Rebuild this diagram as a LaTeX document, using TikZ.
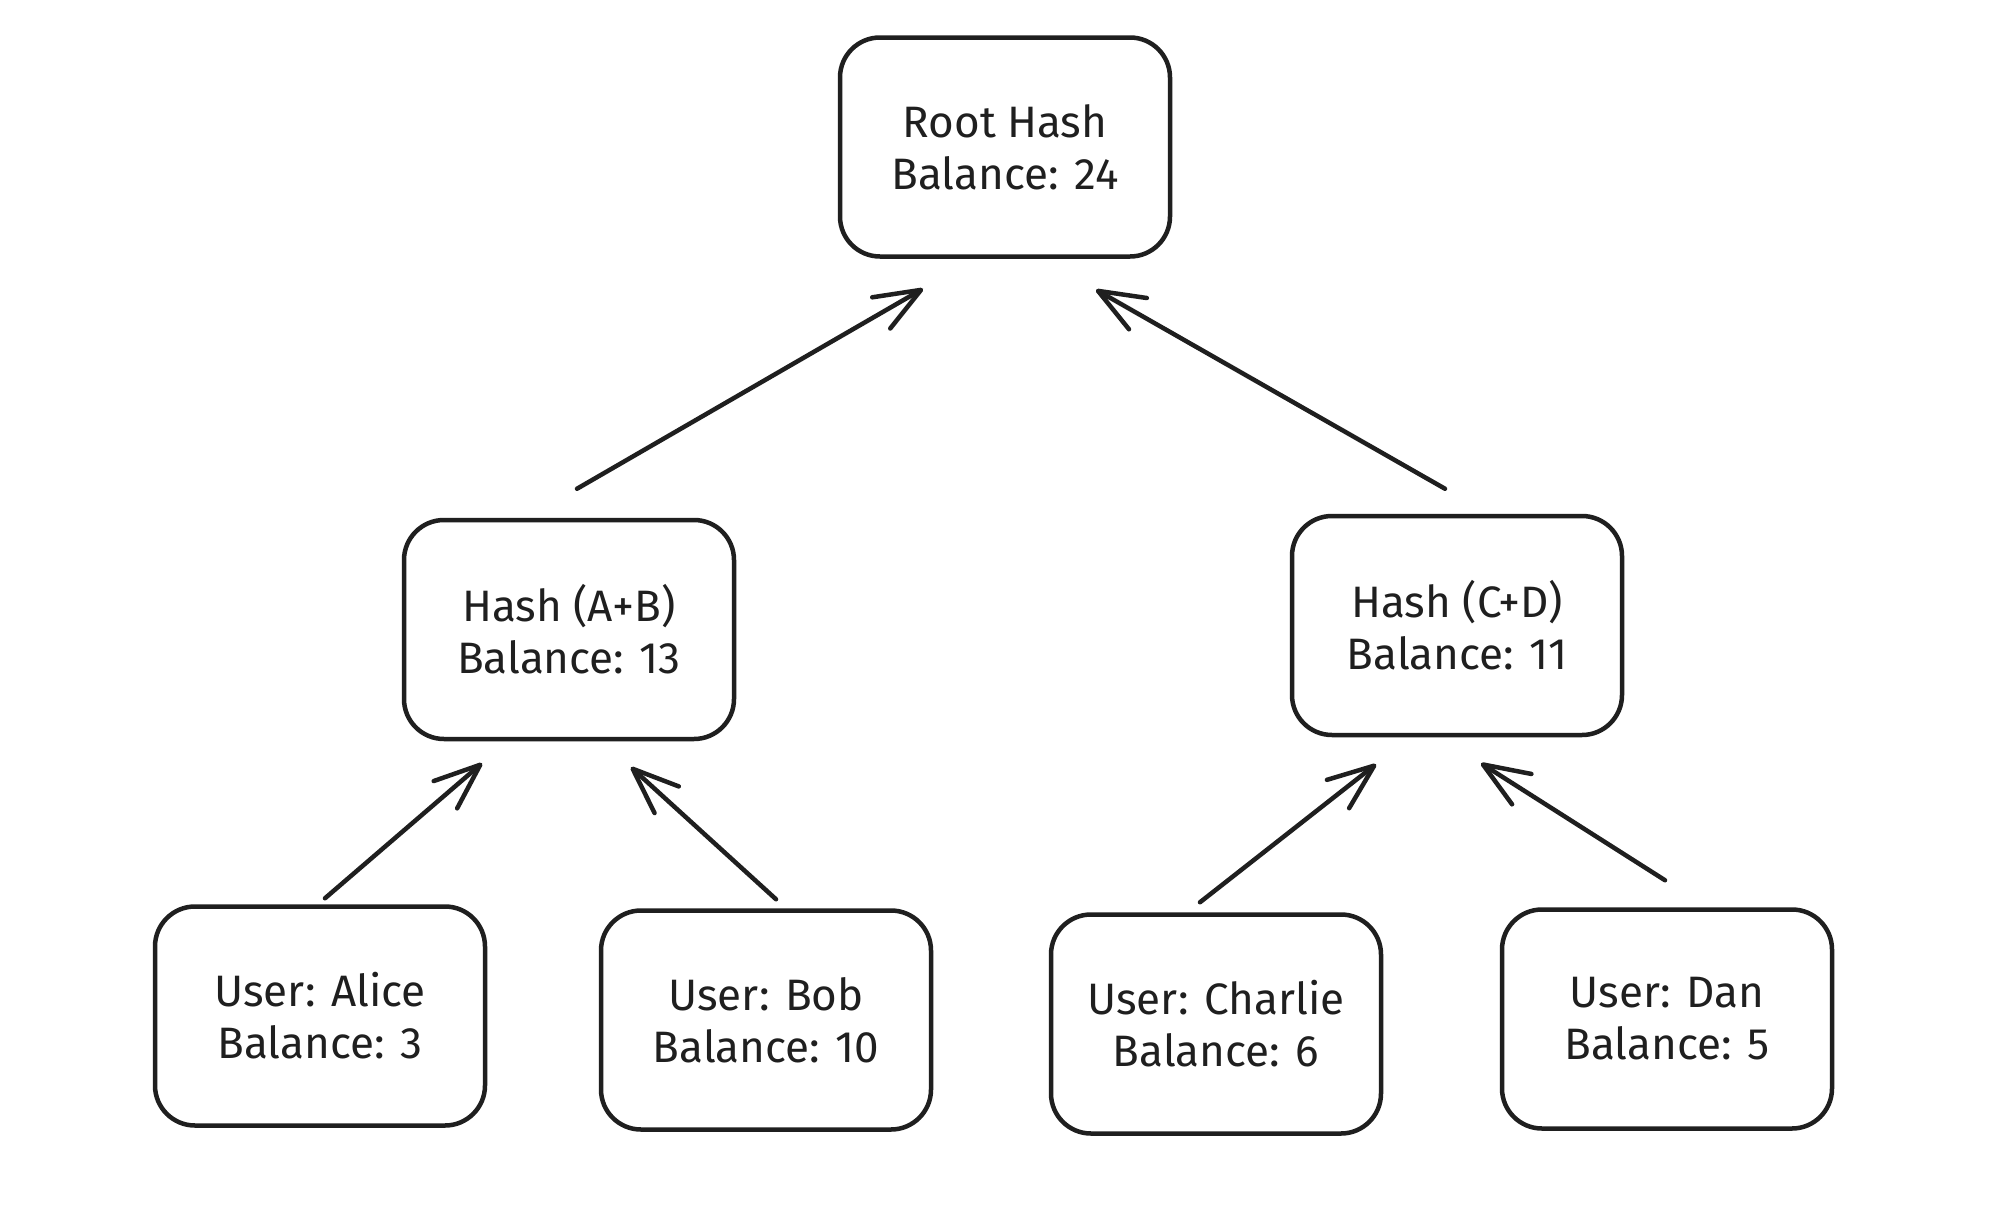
\documentclass[tikz,border=0pt]{standalone}
\usepackage{fontspec}
\setmainfont{Fira Sans}
\usetikzlibrary{arrows.meta,calc}

\tikzset{
  hashbox/.style={draw=black!88, line width=4.5pt, rounded corners=40pt,
    minimum width=330pt, minimum height=219pt, align=center,
    inner sep=0pt, text=black!88, font=\fontsize{44}{52}\selectfont},
  link/.style={draw=black!88, line width=4.5pt, line cap=round, line join=round,
    -{Straight Barb[length=46pt, width=36pt, line cap=round, line join=round]}}
}

\begin{document}
\begin{tikzpicture}[x=1pt, y=-1pt]
  \useasboundingbox (0,0) rectangle (1998,1210);
  \fill[white] (0,0) rectangle (1998,1210);

  % tree nodes
  \node[hashbox] (root)    at (1005,147)  {Root Hash\\Balance: 24};
  \node[hashbox] (ab)      at (569,629.5) {Hash (A+B)\\Balance: 13};
  \node[hashbox] (cd)      at (1457,625.5){Hash (C+D)\\Balance: 11};
  \node[hashbox] (alice)   at (320,1016)  {User: Alice\\Balance: 3};
  \node[hashbox] (bob)     at (766,1020)  {User: Bob\\Balance: 10};
  \node[hashbox] (charlie) at (1216,1024) {User: Charlie\\Balance: 6};
  \node[hashbox] (dan)     at (1667,1019) {User: Dan\\Balance: 5};

  % hashes point up to their parent
  \draw[link] ($(ab.north)+(8,-29)$)       -- ($(root.south)+(-82,30)$);
  \draw[link] ($(cd.north)+(-12,-25)$)     -- ($(root.south)+(91,31)$);
  \draw[link] ($(alice.north)+(5,-6)$)     -- ($(ab.south)+(-87,22)$);
  \draw[link] ($(bob.north)+(10,-9)$)      -- ($(ab.south)+(62,26)$);
  \draw[link] ($(charlie.north)+(-16,-10)$)-- ($(cd.south)+(-81,27)$);
  \draw[link] ($(dan.north)+(-2,-27)$)     -- ($(cd.south)+(24,26)$);
\end{tikzpicture}
\end{document}
